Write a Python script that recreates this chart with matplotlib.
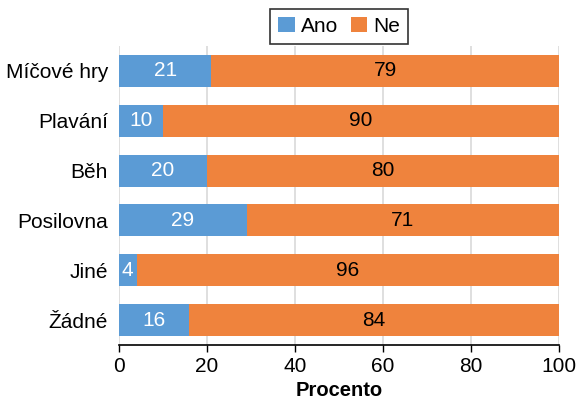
import matplotlib
matplotlib.use("Agg")
import matplotlib.pyplot as plt
import numpy as np

categories = ["Míčové hry", "Plavání", "Běh", "Posilovna", "Jiné", "Žádné"]
ano = [21, 10, 20, 29, 4, 16]
ne = [79, 90, 80, 71, 96, 84]
xticks = [0, 20, 40, 60, 80, 100]

plt.rcParams['font.family'] = ['Liberation Sans', 'DejaVu Sans']
fs = 15

fig = plt.figure(figsize=(5.76, 4.01), dpi=100)
ax = fig.add_axes([0.2066, 0.1397, 0.7639, 0.7456])

y = np.arange(len(categories))
blue = "#5B9BD5"
orange = "#EF833D"
h = 0.64
b1 = ax.barh(y, ano, height=h, color=blue, label="Ano", zorder=3)
b2 = ax.barh(y, ne, left=ano, height=h, color=orange, label="Ne", zorder=3)

for i in range(len(categories)):
    ax.text(ano[i] / 2, y[i], str(ano[i]), ha="center", va="center",
            color="white", fontsize=fs, zorder=4)
    ax.text(ano[i] + ne[i] / 2, y[i], str(ne[i]), ha="center", va="center",
            color="black", fontsize=fs, zorder=4)

ax.set_ylim(len(categories) - 0.5, -0.5)
ax.set_xlim(0, 100)
ax.set_yticks(y)
ax.set_yticklabels(categories, fontsize=fs)
ax.set_xticks(xticks)
ax.set_xticklabels([str(t) for t in xticks], fontsize=fs)
ax.tick_params(axis="y", length=0, pad=8)
ax.tick_params(axis="x", length=5, width=1, direction="out", color="black")
ax.xaxis.grid(True, color="#D9D9D9", linewidth=1.2, zorder=0)
ax.set_axisbelow(True)
for s in ["top", "right", "left"]:
    ax.spines[s].set_visible(False)
ax.spines["bottom"].set_color("black")
ax.spines["bottom"].set_linewidth(1.2)
ax.set_xlabel("Procento", fontsize=fs - 0.5, fontweight="bold", labelpad=4)

leg = fig.legend(handles=[b1, b2], labels=["Ano", "Ne"], loc="center",
                 bbox_to_anchor=(0.589, 0.934), ncol=2, fontsize=fs,
                 frameon=True, fancybox=False, edgecolor="black",
                 handlelength=0.8, handleheight=0.75, handletextpad=0.3,
                 columnspacing=0.6, borderpad=0.38, borderaxespad=0)
leg.get_frame().set_linewidth(1.2)

fig.savefig("out.png", dpi=100)
